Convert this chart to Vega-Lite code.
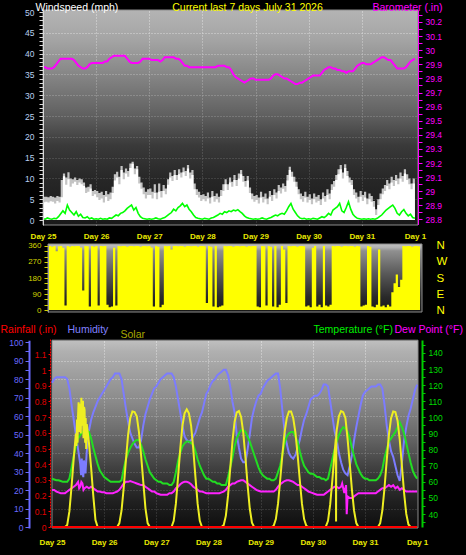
{
  "$schema": "https://vega.github.io/schema/vega-lite/v6.json",
  "width": 466,
  "height": 555,
  "autosize": "none",
  "padding": 0,
  "background": "#000000",
  "config": {
    "font": "Liberation Sans",
    "view": {"stroke": null},
    "mark": {"invalid": "filter"},
    "axis": {
      "labelFont": "Liberation Sans", "titleFont": "Liberation Sans",
      "labelOverlap": false, "labelFlush": false,
      "titleFontWeight": "normal", "titleAngle": 0, "titleAlign": "left", "titleBaseline": "alphabetic",
      "titleFontSize": 10.5, "labelFontSize": 8.5, "grid": false
    }
  },
  "datasets": {
    "one": [{"k": 1}],
    "rain": [{"h":0,"r":0},{"h":24,"r":0},{"h":48,"r":0},{"h":72,"r":0},{"h":96,"r":0},{"h":120,"r":0},{"h":144,"r":0},{"h":168,"r":0}],
    "main": [
      {"h":0,"g":4.3,"gm":5.6,"w":0.3,"b":29.88,"d":360,"hu":78,"s":0,"t":62,"dp":55},
      {"h":1,"g":4.4,"gm":5.6,"w":0.2,"b":29.88,"d":355,"hu":80,"s":0,"t":61.5,"dp":55},
      {"h":2,"g":4.2,"gm":5.5,"w":0.5,"b":29.87,"d":360,"hu":81,"s":0,"t":61,"dp":54},
      {"h":3,"g":4.5,"gm":5.8,"w":0.3,"b":29.87,"d":330,"hu":81,"s":0,"t":61,"dp":53.5},
      {"h":4,"g":4.4,"gm":5.6,"w":0.2,"b":29.87,"d":358,"hu":81,"s":0,"t":60.5,"dp":53},
      {"h":5,"g":4.0,"gm":5.4,"w":0.4,"b":29.88,"d":360,"hu":81,"s":0,"t":60,"dp":53},
      {"h":6,"g":4.6,"gm":5.8,"w":0.3,"b":29.90,"d":350,"hu":81,"s":0,"t":60,"dp":53},
      {"h":7,"g":4.2,"gm":5.6,"w":0.8,"b":29.92,"d":25,"hu":80,"s":13,"t":60,"dp":54},
      {"h":8,"g":5.5,"gm":9.6,"w":1.5,"b":29.94,"d":360,"hu":75,"s":100,"t":62,"dp":55},
      {"h":9,"g":10.5,"gm":11.2,"w":2.2,"b":29.94,"d":355,"hu":66,"s":260,"t":69,"dp":56},
      {"h":10,"g":8.5,"gm":10.2,"w":1.6,"b":29.94,"d":360,"hu":58,"s":440,"t":76,"dp":57},
      {"h":11,"g":9.8,"gm":11.5,"w":3.6,"b":29.94,"d":358,"hu":50,"s":600,"t":82,"dp":58},
      {"h":12,"g":8.0,"gm":10.0,"w":2.4,"b":29.94,"d":360,"hu":42,"s":720,"t":87,"dp":60},
      {"h":13,"g":8.8,"gm":9.8,"w":1.8,"b":29.94,"d":360,"hu":34,"s":780,"t":89,"dp":57},
      {"h":14,"g":9.2,"gm":10.2,"w":1.2,"b":29.93,"d":352,"hu":30,"s":790,"t":91,"dp":59},
      {"h":15,"g":8.4,"gm":9.6,"w":2.0,"b":29.91,"d":110,"hu":33,"s":750,"t":92,"dp":56},
      {"h":16,"g":9.0,"gm":10.0,"w":0.9,"b":29.89,"d":360,"hu":41,"s":660,"t":92,"dp":57},
      {"h":17,"g":8.6,"gm":9.8,"w":1.4,"b":29.88,"d":358,"hu":52,"s":540,"t":91,"dp":56},
      {"h":18,"g":8.2,"gm":9.0,"w":0.6,"b":29.87,"d":20,"hu":58,"s":380,"t":87,"dp":57},
      {"h":19,"g":6.5,"gm":7.8,"w":0.5,"b":29.87,"d":360,"hu":62,"s":200,"t":81,"dp":56},
      {"h":20,"g":6.8,"gm":8.0,"w":0.8,"b":29.88,"d":356,"hu":65,"s":45,"t":76,"dp":55},
      {"h":21,"g":7.6,"gm":8.6,"w":0.3,"b":29.90,"d":360,"hu":68,"s":0,"t":71,"dp":54},
      {"h":22,"g":5.8,"gm":7.0,"w":0.5,"b":29.91,"d":25,"hu":70,"s":0,"t":67,"dp":54},
      {"h":23,"g":6.2,"gm":7.2,"w":0.2,"b":29.91,"d":360,"hu":72,"s":0,"t":65,"dp":53.5},
      {"h":24,"g":5.5,"gm":7.0,"w":0.3,"b":29.91,"d":358,"hu":74,"s":0,"t":63,"dp":53.5},
      {"h":25,"g":4.8,"gm":6.5,"w":0.2,"b":29.91,"d":360,"hu":76,"s":0,"t":62,"dp":53},
      {"h":26,"g":5.2,"gm":6.8,"w":0.4,"b":29.91,"d":30,"hu":78,"s":0,"t":61,"dp":53},
      {"h":27,"g":4.2,"gm":6.0,"w":0.2,"b":29.91,"d":15,"hu":80,"s":0,"t":60,"dp":53},
      {"h":28,"g":5.6,"gm":7.0,"w":0.3,"b":29.92,"d":20,"hu":81,"s":0,"t":60,"dp":53},
      {"h":29,"g":4.6,"gm":6.2,"w":0.2,"b":29.92,"d":350,"hu":83,"s":0,"t":60,"dp":53.5},
      {"h":30,"g":5.0,"gm":6.6,"w":0.5,"b":29.94,"d":25,"hu":83,"s":0,"t":60,"dp":54},
      {"h":31,"g":6.5,"gm":8.0,"w":0.4,"b":29.95,"d":360,"hu":83,"s":25,"t":60,"dp":55},
      {"h":32,"g":9.5,"gm":11.0,"w":0.8,"b":29.96,"d":358,"hu":80,"s":106,"t":61,"dp":57},
      {"h":33,"g":10.2,"gm":11.6,"w":1.2,"b":29.96,"d":360,"hu":72,"s":252,"t":68,"dp":59},
      {"h":34,"g":8.6,"gm":10.4,"w":1.0,"b":29.96,"d":360,"hu":64,"s":428,"t":74,"dp":60},
      {"h":35,"g":12.0,"gm":13.0,"w":1.6,"b":29.96,"d":356,"hu":57,"s":590,"t":78,"dp":60},
      {"h":36,"g":9.8,"gm":11.4,"w":1.8,"b":29.96,"d":360,"hu":51,"s":698,"t":81,"dp":60.5},
      {"h":37,"g":11.2,"gm":12.4,"w":2.2,"b":29.96,"d":360,"hu":48,"s":742,"t":83.5,"dp":60},
      {"h":38,"g":10.4,"gm":11.8,"w":2.8,"b":29.94,"d":358,"hu":45,"s":738,"t":85,"dp":59.5},
      {"h":39,"g":12.5,"gm":13.6,"w":3.2,"b":29.92,"d":360,"hu":43,"s":710,"t":86,"dp":59},
      {"h":40,"g":13.5,"gm":14.0,"w":3.6,"b":29.91,"d":360,"hu":43,"s":610,"t":86,"dp":58.5},
      {"h":41,"g":11.0,"gm":12.4,"w":2.4,"b":29.91,"d":355,"hu":47,"s":460,"t":83,"dp":58},
      {"h":42,"g":12.2,"gm":13.0,"w":3.0,"b":29.91,"d":360,"hu":55,"s":290,"t":79,"dp":58},
      {"h":43,"g":8.8,"gm":10.4,"w":1.6,"b":29.91,"d":360,"hu":61,"s":120,"t":74,"dp":57},
      {"h":44,"g":7.5,"gm":9.0,"w":0.8,"b":29.92,"d":358,"hu":65,"s":25,"t":70,"dp":56},
      {"h":45,"g":6.2,"gm":7.8,"w":0.4,"b":29.94,"d":360,"hu":69,"s":0,"t":66,"dp":55},
      {"h":46,"g":5.2,"gm":6.8,"w":0.3,"b":29.94,"d":352,"hu":72,"s":0,"t":64,"dp":54},
      {"h":47,"g":6.0,"gm":7.4,"w":0.2,"b":29.94,"d":20,"hu":75,"s":0,"t":62,"dp":54},
      {"h":48,"g":6.0,"gm":7.6,"w":0.3,"b":29.94,"d":360,"hu":76,"s":0,"t":61,"dp":53},
      {"h":49,"g":5.2,"gm":6.8,"w":0.2,"b":29.93,"d":355,"hu":78,"s":0,"t":60,"dp":52.5},
      {"h":50,"g":6.5,"gm":8.6,"w":0.3,"b":29.93,"d":15,"hu":80,"s":0,"t":60,"dp":52},
      {"h":51,"g":5.0,"gm":6.6,"w":0.5,"b":29.93,"d":30,"hu":81,"s":0,"t":59,"dp":52},
      {"h":52,"g":6.8,"gm":8.8,"w":0.3,"b":29.93,"d":360,"hu":82,"s":0,"t":59,"dp":52},
      {"h":53,"g":5.4,"gm":7.0,"w":0.2,"b":29.92,"d":358,"hu":83,"s":0,"t":59,"dp":52},
      {"h":54,"g":7.0,"gm":8.4,"w":0.4,"b":29.93,"d":360,"hu":83,"s":0,"t":58,"dp":53},
      {"h":55,"g":6.2,"gm":7.6,"w":0.6,"b":29.95,"d":340,"hu":83,"s":0,"t":58,"dp":53},
      {"h":56,"g":8.5,"gm":9.8,"w":1.0,"b":29.95,"d":360,"hu":81,"s":40,"t":60,"dp":54},
      {"h":57,"g":10.2,"gm":11.4,"w":1.4,"b":29.95,"d":360,"hu":76,"s":150,"t":66,"dp":56},
      {"h":58,"g":9.4,"gm":10.6,"w":1.8,"b":29.95,"d":358,"hu":69,"s":320,"t":73,"dp":57},
      {"h":59,"g":10.8,"gm":12.0,"w":2.6,"b":29.95,"d":360,"hu":62,"s":500,"t":78,"dp":58.5},
      {"h":60,"g":9.6,"gm":10.8,"w":2.2,"b":29.94,"d":360,"hu":55,"s":650,"t":82,"dp":59.5},
      {"h":61,"g":11.0,"gm":12.2,"w":3.0,"b":29.94,"d":356,"hu":49,"s":730,"t":84,"dp":60},
      {"h":62,"g":10.2,"gm":11.4,"w":3.4,"b":29.93,"d":360,"hu":47,"s":755,"t":85,"dp":60},
      {"h":63,"g":11.5,"gm":12.6,"w":4.0,"b":29.91,"d":360,"hu":46,"s":730,"t":85,"dp":59.5},
      {"h":64,"g":10.6,"gm":11.8,"w":3.2,"b":29.89,"d":358,"hu":47,"s":650,"t":84,"dp":58.5},
      {"h":65,"g":12.4,"gm":13.2,"w":3.6,"b":29.89,"d":360,"hu":49,"s":500,"t":83,"dp":57},
      {"h":66,"g":10.0,"gm":11.4,"w":2.6,"b":29.88,"d":360,"hu":51,"s":320,"t":79,"dp":56},
      {"h":67,"g":10.8,"gm":12.0,"w":2.0,"b":29.88,"d":355,"hu":55,"s":150,"t":74,"dp":55},
      {"h":68,"g":7.4,"gm":8.8,"w":1.2,"b":29.88,"d":360,"hu":59,"s":40,"t":70,"dp":54},
      {"h":69,"g":6.0,"gm":7.4,"w":0.6,"b":29.88,"d":360,"hu":62,"s":0,"t":67,"dp":54},
      {"h":70,"g":5.4,"gm":6.8,"w":0.4,"b":29.88,"d":358,"hu":67,"s":0,"t":64,"dp":53.5},
      {"h":71,"g":4.6,"gm":6.0,"w":0.3,"b":29.88,"d":40,"hu":72,"s":0,"t":62,"dp":53},
      {"h":72,"g":5.0,"gm":6.2,"w":0.2,"b":29.88,"d":360,"hu":74,"s":0,"t":62,"dp":53},
      {"h":73,"g":4.5,"gm":5.8,"w":0.4,"b":29.88,"d":355,"hu":77,"s":0,"t":61,"dp":53},
      {"h":74,"g":5.2,"gm":6.6,"w":0.3,"b":29.88,"d":20,"hu":79,"s":0,"t":60,"dp":53},
      {"h":75,"g":4.0,"gm":5.4,"w":0.2,"b":29.88,"d":360,"hu":80,"s":0,"t":60,"dp":53},
      {"h":76,"g":5.6,"gm":7.0,"w":0.5,"b":29.88,"d":15,"hu":82,"s":0,"t":59,"dp":53},
      {"h":77,"g":4.4,"gm":5.8,"w":0.6,"b":29.88,"d":20,"hu":83,"s":0,"t":59,"dp":53},
      {"h":78,"g":5.0,"gm":6.4,"w":0.9,"b":29.88,"d":25,"hu":84,"s":0,"t":58,"dp":53.5},
      {"h":79,"g":4.2,"gm":5.6,"w":1.2,"b":29.89,"d":360,"hu":85,"s":12,"t":58,"dp":54},
      {"h":80,"g":5.8,"gm":7.2,"w":1.6,"b":29.89,"d":358,"hu":85,"s":73,"t":58,"dp":55},
      {"h":81,"g":7.0,"gm":8.6,"w":1.4,"b":29.89,"d":360,"hu":82,"s":201,"t":63,"dp":57},
      {"h":82,"g":8.6,"gm":9.8,"w":2.0,"b":29.89,"d":360,"hu":76,"s":374,"t":69,"dp":58},
      {"h":83,"g":7.2,"gm":8.6,"w":1.8,"b":29.88,"d":356,"hu":68,"s":545,"t":75,"dp":59},
      {"h":84,"g":9.0,"gm":10.2,"w":2.2,"b":29.88,"d":360,"hu":62,"s":674,"t":82,"dp":59},
      {"h":85,"g":8.0,"gm":9.2,"w":2.0,"b":29.86,"d":360,"hu":50,"s":736,"t":87,"dp":60},
      {"h":86,"g":9.6,"gm":10.8,"w":2.4,"b":29.83,"d":358,"hu":43,"s":744,"t":90,"dp":60.5},
      {"h":87,"g":8.2,"gm":9.6,"w":2.2,"b":29.81,"d":360,"hu":37,"s":706,"t":92,"dp":61},
      {"h":88,"g":10.0,"gm":11.2,"w":2.5,"b":29.80,"d":360,"hu":35,"s":605,"t":92,"dp":61},
      {"h":89,"g":11.0,"gm":12.0,"w":2.0,"b":29.79,"d":355,"hu":35,"s":446,"t":91,"dp":60},
      {"h":90,"g":9.2,"gm":10.6,"w":1.6,"b":29.78,"d":360,"hu":42,"s":269,"t":88,"dp":59},
      {"h":91,"g":8.0,"gm":9.4,"w":1.0,"b":29.77,"d":358,"hu":50,"s":117,"t":85,"dp":58},
      {"h":92,"g":9.5,"gm":10.6,"w":0.6,"b":29.78,"d":360,"hu":59,"s":28,"t":81,"dp":57},
      {"h":93,"g":6.5,"gm":7.8,"w":0.4,"b":29.79,"d":360,"hu":64,"s":0,"t":77,"dp":56},
      {"h":94,"g":5.0,"gm":6.4,"w":0.3,"b":29.80,"d":20,"hu":68,"s":0,"t":73,"dp":55},
      {"h":95,"g":4.4,"gm":5.8,"w":0.2,"b":29.80,"d":15,"hu":71,"s":0,"t":69,"dp":54.5},
      {"h":96,"g":4.8,"gm":6.0,"w":0.3,"b":29.79,"d":360,"hu":72,"s":0,"t":66,"dp":54},
      {"h":97,"g":4.0,"gm":5.4,"w":0.2,"b":29.79,"d":358,"hu":75,"s":0,"t":64,"dp":54},
      {"h":98,"g":5.4,"gm":6.8,"w":0.3,"b":29.79,"d":25,"hu":77,"s":0,"t":63,"dp":54},
      {"h":99,"g":4.2,"gm":5.6,"w":0.5,"b":29.79,"d":360,"hu":79,"s":0,"t":62,"dp":54},
      {"h":100,"g":5.0,"gm":6.4,"w":0.3,"b":29.79,"d":355,"hu":80,"s":0,"t":62,"dp":54},
      {"h":101,"g":3.8,"gm":5.2,"w":0.2,"b":29.79,"d":20,"hu":81,"s":0,"t":61,"dp":54},
      {"h":102,"g":5.6,"gm":7.0,"w":0.4,"b":29.79,"d":360,"hu":82,"s":8,"t":61,"dp":54},
      {"h":103,"g":4.6,"gm":6.0,"w":0.6,"b":29.80,"d":15,"hu":83,"s":51,"t":62,"dp":55},
      {"h":104,"g":6.0,"gm":7.4,"w":0.9,"b":29.82,"d":30,"hu":83,"s":150,"t":66,"dp":57},
      {"h":105,"g":5.2,"gm":6.6,"w":1.2,"b":29.83,"d":360,"hu":75,"s":303,"t":70,"dp":58.5},
      {"h":106,"g":7.0,"gm":8.4,"w":1.0,"b":29.83,"d":340,"hu":63,"s":464,"t":77,"dp":59.5},
      {"h":107,"g":6.4,"gm":7.8,"w":1.4,"b":29.82,"d":40,"hu":52,"s":605,"t":84,"dp":60.5},
      {"h":108,"g":7.5,"gm":8.8,"w":1.6,"b":29.81,"d":360,"hu":45,"s":698,"t":88,"dp":61},
      {"h":109,"g":6.8,"gm":8.2,"w":1.4,"b":29.80,"d":358,"hu":40,"s":741,"t":90,"dp":61},
      {"h":110,"g":9.5,"gm":10.8,"w":2.2,"b":29.80,"d":360,"hu":38,"s":741,"t":91,"dp":60.5},
      {"h":111,"g":12.0,"gm":12.8,"w":3.2,"b":29.79,"d":360,"hu":37,"s":698,"t":91,"dp":60},
      {"h":112,"g":10.4,"gm":11.6,"w":4.0,"b":29.78,"d":356,"hu":39,"s":605,"t":88,"dp":59},
      {"h":113,"g":9.2,"gm":10.4,"w":2.6,"b":29.77,"d":360,"hu":43,"s":464,"t":85,"dp":58},
      {"h":114,"g":8.0,"gm":9.2,"w":1.8,"b":29.76,"d":360,"hu":47,"s":303,"t":79,"dp":58},
      {"h":115,"g":6.2,"gm":7.4,"w":1.0,"b":29.76,"d":358,"hu":53,"s":150,"t":74,"dp":57},
      {"h":116,"g":5.0,"gm":6.4,"w":0.5,"b":29.77,"d":20,"hu":58,"s":51,"t":70,"dp":56},
      {"h":117,"g":4.4,"gm":5.8,"w":0.3,"b":29.77,"d":25,"hu":61,"s":8,"t":68,"dp":55},
      {"h":118,"g":5.4,"gm":6.8,"w":0.4,"b":29.78,"d":15,"hu":65,"s":0,"t":66,"dp":54},
      {"h":119,"g":4.2,"gm":5.6,"w":0.2,"b":29.79,"d":350,"hu":69,"s":0,"t":65,"dp":53.5},
      {"h":120,"g":4.8,"gm":6.2,"w":0.3,"b":29.80,"d":360,"hu":70,"s":0,"t":65,"dp":53},
      {"h":121,"g":3.8,"gm":5.2,"w":0.2,"b":29.81,"d":20,"hu":71,"s":0,"t":64,"dp":52.5},
      {"h":122,"g":5.0,"gm":6.4,"w":0.4,"b":29.82,"d":30,"hu":71,"s":0,"t":63,"dp":52},
      {"h":123,"g":4.2,"gm":5.6,"w":0.3,"b":29.82,"d":15,"hu":72,"s":0,"t":63,"dp":52},
      {"h":124,"g":4.6,"gm":6.0,"w":0.2,"b":29.82,"d":360,"hu":74,"s":0,"t":62,"dp":52},
      {"h":125,"g":3.6,"gm":5.0,"w":0.5,"b":29.82,"d":25,"hu":77,"s":0,"t":62,"dp":52},
      {"h":126,"g":5.2,"gm":6.6,"w":0.8,"b":29.84,"d":20,"hu":77,"s":2,"t":61,"dp":53},
      {"h":127,"g":4.4,"gm":5.8,"w":0.6,"b":29.86,"d":30,"hu":76,"s":40,"t":62,"dp":54},
      {"h":128,"g":6.0,"gm":7.4,"w":1.0,"b":29.87,"d":360,"hu":68,"s":145,"t":68,"dp":55},
      {"h":129,"g":5.0,"gm":6.4,"w":1.6,"b":29.88,"d":358,"hu":60,"s":303,"t":74,"dp":56},
      {"h":130,"g":7.2,"gm":8.6,"w":1.2,"b":29.88,"d":360,"hu":52,"s":475,"t":80,"dp":57},
      {"h":131,"g":8.0,"gm":9.4,"w":2.4,"b":29.87,"d":360,"hu":47,"s":622,"t":85,"dp":57},
      {"h":132,"g":9.6,"gm":10.8,"w":2.8,"b":29.87,"d":356,"hu":40,"s":711,"t":89,"dp":56},
      {"h":133,"g":11.0,"gm":12.2,"w":3.2,"b":29.86,"d":360,"hu":35,"s":744,"t":92,"dp":57},
      {"h":134,"g":12.2,"gm":13.2,"w":4.0,"b":29.86,"d":360,"hu":31,"s":737,"t":94,"dp":56},
      {"h":135,"g":10.0,"gm":11.4,"w":2.2,"b":29.85,"d":358,"hu":29,"s":700,"t":93,"dp":56},
      {"h":136,"g":12.5,"gm":13.4,"w":1.8,"b":29.85,"d":360,"hu":28,"s":565,"t":91,"dp":51},
      {"h":137,"g":10.6,"gm":11.8,"w":3.0,"b":29.84,"d":360,"hu":33,"s":406,"t":87,"dp":50},
      {"h":138,"g":9.0,"gm":10.2,"w":4.4,"b":29.85,"d":355,"hu":39,"s":238,"t":81,"dp":50},
      {"h":139,"g":8.4,"gm":9.6,"w":2.6,"b":29.85,"d":360,"hu":47,"s":103,"t":76,"dp":51},
      {"h":140,"g":6.0,"gm":7.4,"w":1.4,"b":29.85,"d":358,"hu":54,"s":25,"t":71,"dp":52},
      {"h":141,"g":5.2,"gm":6.6,"w":0.8,"b":29.87,"d":20,"hu":60,"s":0,"t":68,"dp":53},
      {"h":142,"g":4.2,"gm":5.6,"w":0.4,"b":29.89,"d":25,"hu":66,"s":0,"t":65,"dp":53},
      {"h":143,"g":5.6,"gm":7.0,"w":0.3,"b":29.90,"d":30,"hu":71,"s":0,"t":63,"dp":53},
      {"h":144,"g":4.6,"gm":6.0,"w":0.2,"b":29.91,"d":360,"hu":73,"s":0,"t":62,"dp":53},
      {"h":145,"g":5.4,"gm":6.8,"w":0.3,"b":29.91,"d":355,"hu":74,"s":0,"t":62,"dp":53},
      {"h":146,"g":3.8,"gm":5.2,"w":0.2,"b":29.90,"d":20,"hu":75,"s":0,"t":61,"dp":53},
      {"h":147,"g":5.0,"gm":6.4,"w":0.3,"b":29.90,"d":15,"hu":76,"s":0,"t":61,"dp":53},
      {"h":148,"g":4.4,"gm":5.8,"w":0.2,"b":29.90,"d":30,"hu":76,"s":0,"t":61,"dp":53},
      {"h":149,"g":3.2,"gm":4.6,"w":0.3,"b":29.91,"d":340,"hu":76,"s":0,"t":61,"dp":53},
      {"h":150,"g":1.2,"gm":2.6,"w":0.2,"b":29.92,"d":20,"hu":77,"s":0,"t":62,"dp":54},
      {"h":151,"g":3.6,"gm":5.0,"w":0.4,"b":29.93,"d":25,"hu":77,"s":24,"t":64,"dp":55},
      {"h":152,"g":5.0,"gm":6.4,"w":0.8,"b":29.94,"d":15,"hu":75,"s":106,"t":68,"dp":56},
      {"h":153,"g":6.2,"gm":7.6,"w":1.2,"b":29.95,"d":30,"hu":66,"s":252,"t":75,"dp":56},
      {"h":154,"g":7.0,"gm":8.4,"w":1.8,"b":29.95,"d":20,"hu":55,"s":428,"t":80,"dp":57},
      {"h":155,"g":8.2,"gm":9.6,"w":2.4,"b":29.94,"d":100,"hu":47,"s":590,"t":85,"dp":58},
      {"h":156,"g":7.4,"gm":8.8,"w":2.8,"b":29.93,"d":150,"hu":41,"s":698,"t":87,"dp":57},
      {"h":157,"g":9.0,"gm":10.4,"w":3.2,"b":29.93,"d":200,"hu":38,"s":742,"t":89,"dp":58},
      {"h":158,"g":8.2,"gm":9.6,"w":3.6,"b":29.91,"d":130,"hu":33,"s":738,"t":91,"dp":56},
      {"h":159,"g":9.4,"gm":10.8,"w":2.8,"b":29.89,"d":170,"hu":28,"s":682,"t":94,"dp":57},
      {"h":160,"g":8.6,"gm":10.0,"w":1.6,"b":29.87,"d":360,"hu":25,"s":560,"t":97,"dp":55},
      {"h":161,"g":10.0,"gm":11.4,"w":1.2,"b":29.87,"d":358,"hu":35,"s":392,"t":94,"dp":56},
      {"h":162,"g":9.2,"gm":10.6,"w":2.0,"b":29.87,"d":360,"hu":47,"s":218,"t":90,"dp":55},
      {"h":163,"g":11.2,"gm":12.2,"w":2.5,"b":29.87,"d":360,"hu":54,"s":84,"t":84,"dp":54},
      {"h":164,"g":9.6,"gm":11.0,"w":1.6,"b":29.88,"d":356,"hu":60,"s":16,"t":78,"dp":54},
      {"h":165,"g":8.6,"gm":10.0,"w":1.0,"b":29.90,"d":360,"hu":64,"s":0,"t":72,"dp":54},
      {"h":166,"g":7.4,"gm":8.8,"w":1.4,"b":29.92,"d":360,"hu":69,"s":0,"t":67,"dp":54},
      {"h":167,"g":8.8,"gm":10.0,"w":0.6,"b":29.93,"d":358,"hu":74,"s":0,"t":64,"dp":54},
      {"h":168,"g":7.0,"gm":8.4,"w":0.4,"b":29.94,"d":360,"hu":77,"s":0,"t":62,"dp":54},
      {"h":11.25,"s":520},{"h":11.5,"s":690},{"h":11.75,"s":540},{"h":12.25,"s":800},{"h":12.5,"s":610},
      {"h":12.75,"s":790},{"h":13.25,"s":600},{"h":13.5,"s":830},{"h":13.75,"s":650},{"h":14.25,"s":810},
      {"h":14.5,"s":570},{"h":14.75,"s":770},{"h":15.25,"s":540},{"h":15.5,"s":700},{"h":15.75,"s":500},
      {"h":130.6,"s":565},{"h":130.7,"s":35},{"h":130.8,"s":590},
      {"h":13.4,"hu":28},{"h":13.7,"hu":37},{"h":14.4,"hu":27},{"h":14.7,"hu":36},{"h":15.4,"hu":29},
      {"h":12.5,"dp":56},{"h":13.5,"dp":60},{"h":14.5,"dp":55},
      {"h":133.5,"dp":59},{"h":134.5,"dp":53},{"h":135.3,"dp":58},{"h":135.6,"dp":40}
    ]
  },
  "resolve": {"scale": {"x": "independent", "y": "independent"}},
  "layer": [
    {
      "data": {"name": "one"},
      "mark": {"type": "rect", "fillOpacity": 0.8, "stroke": "#8c8c8c", "strokeWidth": 1,
        "fill": {"gradient": "linear", "x1": 0, "y1": 0, "x2": 0, "y2": 1, "stops": [
          {"offset": 0, "color": "#e1e1e1"}, {"offset": 0.14, "color": "#cdcdcd"}, {"offset": 0.33, "color": "#a0a0a0"},
          {"offset": 0.49, "color": "#787878"}, {"offset": 0.63, "color": "#484848"}, {"offset": 0.79, "color": "#303030"},
          {"offset": 1, "color": "#202020"}]}},
      "encoding": {
        "x": {"datum": 0, "type": "quantitative", "scale": {"domain": [0, 169.4], "range": [43, 418], "nice": false, "zero": false},
          "axis": {"orient": "top", "values": [24, 48, 72, 96, 120, 144], "grid": true, "gridColor": "#ffffff", "gridDash": [1, 2],
            "labels": false, "ticks": false, "domain": false, "title": null, "zindex": 0}},
        "x2": {"datum": 169.4},
        "y": {"datum": -1.2, "type": "quantitative", "scale": {"domain": [-1.2, 50.5], "range": [225, 10], "nice": false, "zero": false},
          "axis": {"orient": "left", "values": [5, 10, 15, 20, 25, 30, 35, 40, 45], "grid": true, "gridColor": "#ffffff", "gridDash": [1, 2],
            "labels": false, "ticks": false, "domain": false, "title": null, "zindex": 0}},
        "y2": {"datum": 50.5}
      }
    },
    {
      "data": {"name": "main"},
      "mark": {"type": "area", "interpolate": "step-after", "color": "#c4c4c4"},
      "encoding": {
        "x": {"field": "h", "type": "quantitative", "scale": {"domain": [0, 169.4], "range": [43, 418], "nice": false, "zero": false},
          "axis": {"orient": "bottom", "offset": -330, "values": [0, 24, 48, 72, 96, 120, 144, 168],
            "labelExpr": "'Day ' + (datum.value >= 168 ? 1 : 25 + datum.value / 24)",
            "labelColor": "#e8e800", "labelFontSize": 8, "labelFontWeight": "bold", "labelPadding": 7,
            "ticks": false, "domain": false, "title": null, "zindex": 1}},
        "y": {"field": "gm", "type": "quantitative", "scale": {"domain": [-1.2, 50.5], "range": [225, 10], "nice": false, "zero": false},
          "axis": {"orient": "left", "offset": -43,
            "values": [0,1,2,3,4,5,6,7,8,9,10,11,12,13,14,15,16,17,18,19,20,21,22,23,24,25,26,27,28,29,30,31,32,33,34,35,36,37,38,39,40,41,42,43,44,45,46,47,48,49,50],
            "labelExpr": "datum.value % 5 == 0 ? format(datum.value, 'd') : ''",
            "labelColor": "#b8d0f0", "labelPadding": 5, "tickSize": 4, "tickColor": "#d8d8d8", "domainColor": "#d8d8d8",
            "title": "Windspeed (mph)", "titleColor": "#ffffff", "titleX": -8, "titleY": 10, "zindex": 1}}
      }
    },
    {
      "data": {"name": "main"},
      "mark": {"type": "area", "interpolate": "step-after", "color": "#ffffff"},
      "encoding": {
        "x": {"field": "h", "type": "quantitative", "scale": {"domain": [0, 169.4], "range": [43, 418], "nice": false, "zero": false},
          "axis": {"orient": "top", "values": [], "labels": false, "ticks": false, "domain": false,
            "title": "Current last 7 days July 31 2026", "titleColor": "#ffff00", "titleX": 247, "titleY": 10, "titleAlign": "center", "zindex": 1}},
        "y": {"field": "g", "type": "quantitative", "scale": {"domain": [-1.2, 50.5], "range": [225, 10], "nice": false, "zero": false}, "axis": null}
      }
    },
    {
      "data": {"name": "main"},
      "mark": {"type": "line", "color": "#00ff00", "strokeWidth": 1.6},
      "encoding": {
        "x": {"field": "h", "type": "quantitative", "scale": {"domain": [0, 169.4], "range": [43, 418], "nice": false, "zero": false}, "axis": null},
        "y": {"field": "w", "type": "quantitative", "scale": {"domain": [-1.2, 50.5], "range": [225, 10], "nice": false, "zero": false}, "axis": null}
      }
    },
    {
      "data": {"name": "main"},
      "mark": {"type": "line", "color": "#ff00ff", "strokeWidth": 2},
      "encoding": {
        "x": {"field": "h", "type": "quantitative", "scale": {"domain": [0, 169.4], "range": [43, 418], "nice": false, "zero": false}, "axis": null},
        "y": {"field": "b", "type": "quantitative", "scale": {"domain": [28.765, 30.285], "range": [224.4, 10], "nice": false, "zero": false},
          "axis": {"orient": "right", "offset": -48,
            "values": [28.8,28.85,28.9,28.95,29,29.05,29.1,29.15,29.2,29.25,29.3,29.35,29.4,29.45,29.5,29.55,29.6,29.65,29.7,29.75,29.8,29.85,29.9,29.95,30,30.05,30.1,30.15,30.2,30.25],
            "labelExpr": "abs(datum.value * 10 - round(datum.value * 10)) < 0.01 ? format(datum.value, '.1~f') : ''",
            "labelColor": "#ff00ff", "labelPadding": 3, "tickSize": 4, "tickColor": "#ff00ff", "domainColor": "#ff00ff",
            "title": "Barometer (.in)", "titleColor": "#ff00ff", "titleX": -46, "titleY": 10, "zindex": 1}}
      }
    },
    {
      "data": {"name": "one"},
      "mark": {"type": "rect", "fillOpacity": 0.8, "stroke": "#8c8c8c", "strokeWidth": 1,
        "fill": {"gradient": "linear", "x1": 0, "y1": 0, "x2": 0, "y2": 1, "stops": [
          {"offset": 0, "color": "#f0f0f0"}, {"offset": 0.05, "color": "#e1e1e1"}, {"offset": 0.1, "color": "#b4b4b4"},
          {"offset": 0.43, "color": "#707070"}, {"offset": 0.78, "color": "#343434"}, {"offset": 1, "color": "#1e1e1e"}]}},
      "encoding": {
        "x": {"datum": -0.45, "type": "quantitative", "scale": {"domain": [-0.45, 168.9], "range": [48, 422], "nice": false, "zero": false}, "axis": null},
        "x2": {"datum": 168.9},
        "y": {"datum": -11, "type": "quantitative", "scale": {"domain": [-11, 371], "range": [312, 244], "nice": false, "zero": false},
          "axis": {"orient": "right", "offset": -44, "values": [0, 90, 180, 270, 360],
            "labelExpr": "['N', 'E', 'S', 'W', 'N'][round(datum.value / 90)]",
            "labelColor": "#ffff00", "labelFontSize": 11.5, "labelPadding": 14, "labelAlign": "left",
            "ticks": false, "domain": false, "title": null, "zindex": 1}},
        "y2": {"datum": 371}
      }
    },
    {
      "data": {"name": "main"},
      "mark": {"type": "area", "interpolate": "step-after", "color": "#ffff00"},
      "encoding": {
        "x": {"field": "h", "type": "quantitative", "scale": {"domain": [-0.45, 168.9], "range": [48, 422], "nice": false, "zero": false}, "axis": null},
        "y": {"field": "d", "type": "quantitative", "scale": {"domain": [-11, 371], "range": [312, 244], "nice": false, "zero": false},
          "axis": {"orient": "left", "offset": -48, "values": [0, 30, 60, 90, 120, 150, 180, 210, 240, 270, 300, 330, 360],
            "labelExpr": "datum.value % 90 == 0 ? format(datum.value, 'd') : ''",
            "labelColor": "#d4d400", "labelFontSize": 8, "labelPadding": 3, "tickSize": 4, "tickColor": "#d4d400", "domainColor": "#9a9a9a",
            "title": null, "zindex": 1}}
      }
    },
    {
      "data": {"name": "one"},
      "mark": {"type": "rect", "fillOpacity": 0.8, "stroke": "#8c8c8c", "strokeWidth": 1,
        "fill": {"gradient": "linear", "x1": 0, "y1": 0, "x2": 0, "y2": 1, "stops": [
          {"offset": 0, "color": "#f0f0f0"}, {"offset": 0.06, "color": "#dcdcdc"}, {"offset": 0.33, "color": "#acacac"},
          {"offset": 0.5, "color": "#848484"}, {"offset": 0.68, "color": "#505050"}, {"offset": 0.86, "color": "#282828"},
          {"offset": 1, "color": "#121212"}]}},
      "encoding": {
        "x": {"datum": 0, "type": "quantitative", "scale": {"domain": [0, 168.4], "range": [52, 418], "nice": false, "zero": false},
          "axis": {"orient": "top", "values": [24, 48, 72, 96, 120, 144], "grid": true, "gridColor": "#ffffff", "gridDash": [1, 2],
            "labels": false, "ticks": false, "domain": false, "title": null, "zindex": 0}},
        "x2": {"datum": 168.4},
        "y": {"datum": -0.5, "type": "quantitative", "scale": {"domain": [-0.5, 101], "range": [528, 340.2], "nice": false, "zero": false},
          "axis": {"orient": "left", "values": [10, 20, 30, 40, 50, 60, 70, 80, 90], "grid": true, "gridColor": "#ffffff", "gridDash": [1, 2],
            "labels": false, "ticks": false, "domain": false, "title": null, "zindex": 0}},
        "y2": {"datum": 101}
      }
    },
    {
      "data": {"name": "main"},
      "mark": {"type": "line", "color": "#7c7cff", "strokeWidth": 2},
      "encoding": {
        "x": {"field": "h", "type": "quantitative", "scale": {"domain": [0, 168.4], "range": [52, 418], "nice": false, "zero": false},
          "axis": {"orient": "bottom", "offset": -27, "values": [0, 24, 48, 72, 96, 120, 144, 168],
            "labelExpr": "'Day ' + (datum.value >= 168 ? 1 : 25 + datum.value / 24)",
            "labelColor": "#e8e800", "labelFontSize": 8, "labelFontWeight": "bold", "labelPadding": 10,
            "ticks": false, "domain": false, "title": null, "zindex": 1}},
        "y": {"field": "hu", "type": "quantitative", "scale": {"domain": [-0.5, 101], "range": [528, 340.2], "nice": false, "zero": false},
          "axis": {"orient": "left", "offset": -29, "values": [0, 5, 10, 15, 20, 25, 30, 35, 40, 45, 50, 55, 60, 65, 70, 75, 80, 85, 90, 95, 100],
            "labelExpr": "datum.value % 10 == 0 ? format(datum.value, 'd') : ''",
            "labelColor": "#6a6aff", "labelPadding": 2, "tickSize": 4, "tickColor": "#6a6aff", "domainColor": "#6a6aff", "domainWidth": 2,
            "title": "Humidity", "titleColor": "#8080ff", "titleX": 38, "titleY": 332, "zindex": 1}}
      }
    },
    {
      "data": {"name": "main"},
      "mark": {"type": "line", "color": "#22dd22", "strokeWidth": 2},
      "encoding": {
        "x": {"field": "h", "type": "quantitative", "scale": {"domain": [0, 168.4], "range": [52, 418], "nice": false, "zero": false}, "axis": null},
        "y": {"field": "t", "type": "quantitative", "scale": {"domain": [32, 148], "range": [527, 340], "nice": false, "zero": false},
          "axis": {"orient": "right", "offset": -44, "values": [35, 40, 45, 50, 55, 60, 65, 70, 75, 80, 85, 90, 95, 100, 105, 110, 115, 120, 125, 130, 135, 140, 145],
            "labelExpr": "datum.value % 10 == 0 ? format(datum.value, 'd') : ''",
            "labelColor": "#00dd00", "labelPadding": 3, "tickSize": 3, "tickColor": "#00cc00", "domainColor": "#00cc00", "domainWidth": 2,
            "title": "Temperature (°F)", "titleColor": "#00ee00", "titleX": -109, "titleY": 332, "zindex": 1}}
      }
    },
    {
      "data": {"name": "main"},
      "mark": {"type": "line", "color": "#ff22ff", "strokeWidth": 2},
      "encoding": {
        "x": {"field": "h", "type": "quantitative", "scale": {"domain": [0, 168.4], "range": [52, 418], "nice": false, "zero": false}, "axis": null},
        "y": {"field": "dp", "type": "quantitative", "scale": {"domain": [32, 148], "range": [527, 340], "nice": false, "zero": false},
          "axis": {"orient": "right", "offset": -44, "values": [], "labels": false, "ticks": false, "domain": false,
            "title": "Dew Point (°F)", "titleColor": "#ff00ff", "titleX": -28, "titleY": 332, "zindex": 1}}
      }
    },
    {
      "data": {"name": "main"},
      "mark": {"type": "line", "color": "#eeee22", "strokeWidth": 2},
      "encoding": {
        "x": {"field": "h", "type": "quantitative", "scale": {"domain": [0, 168.4], "range": [52, 418], "nice": false, "zero": false}, "axis": null},
        "y": {"field": "s", "type": "quantitative", "scale": {"domain": [0, 1200], "range": [527, 340], "nice": false, "zero": false},
          "axis": {"orient": "left", "offset": -52, "values": [], "labels": false, "ticks": false, "domain": false,
            "title": "Solar", "titleColor": "#a8a800", "titleX": 68, "titleY": 337, "zindex": 1}}
      }
    },
    {
      "data": {"name": "rain"},
      "mark": {"type": "line", "color": "#ff0000", "strokeWidth": 2},
      "encoding": {
        "x": {"field": "h", "type": "quantitative", "scale": {"domain": [0, 168.4], "range": [52, 418], "nice": false, "zero": false}, "axis": null},
        "y": {"field": "r", "type": "quantitative", "scale": {"domain": [0, 1.2], "range": [527, 338.6], "nice": false, "zero": false},
          "axis": {"orient": "left", "offset": -50, "values": [0, 0.1, 0.2, 0.3, 0.4, 0.5, 0.6, 0.7, 0.8, 0.9, 1, 1.1],
            "labelExpr": "format(datum.value, '.1~f')",
            "labelColor": "#e00000", "labelPadding": 2, "tickSize": 2, "tickColor": "#ff0000", "domainColor": "#ff0000", "domainDash": [2, 1],
            "title": "Rainfall (.in)", "titleColor": "#ff0000", "titleX": -50, "titleY": 332, "zindex": 1}}
      }
    }
  ]
}
